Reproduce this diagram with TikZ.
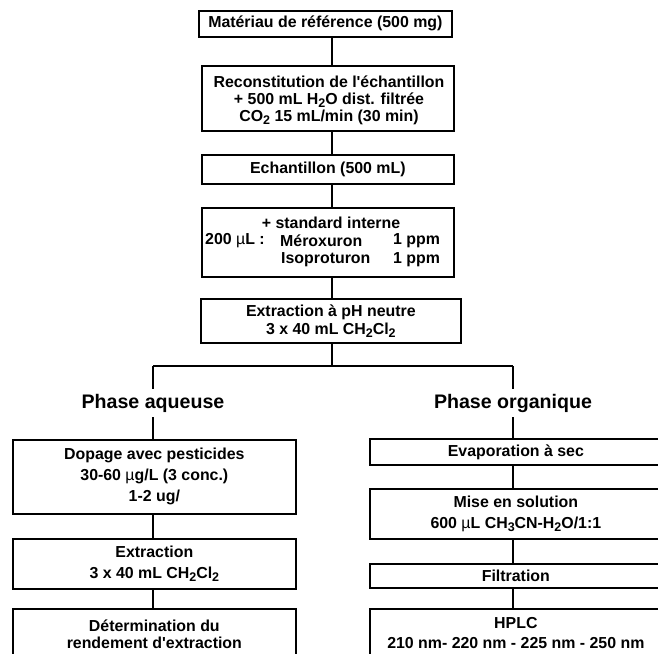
\documentclass[tikz,border=0pt]{standalone}
\usepackage{fontspec}
\newfontfamily\arial{Liberation Sans}
\newcommand\dn[1]{\raisebox{-0.35ex}{\fontsize{12.5}{12}\selectfont #1}}
\newcommand\mcu{{\mdseries µ}}
\begin{document}
\begin{tikzpicture}[x=1pt,y=-1pt,
  box/.style={draw=black,line width=1.7pt,anchor=north west,inner sep=0pt,align=center,
    font=\arial\fontsize{15.9}{18}\selectfont\bfseries},
  conn/.style={draw=black,line width=1.3pt},
  phase/.style={inner xsep=2pt,inner ysep=5pt,text height=14pt,text depth=4pt,
    font=\arial\fontsize{19.6}{22}\selectfont\bfseries},
  txt/.style={inner sep=0pt,font=\arial\fontsize{15.9}{18}\selectfont\bfseries}]
\useasboundingbox (0,0) rectangle (658,653);
\clip (0,0) rectangle (658,653);
% central column
\node[box,minimum width=253,minimum height=26] (b1) at (198,10) {Matériau de référence (500 mg)};
\node[box,minimum width=252,minimum height=65] (b2) at (201,65) {};
\node[txt,align=center,font=\arial\fontsize{15.9}{17}\selectfont\bfseries] (b2t) at (329,100)
  {Reconstitution de l'échantillon\\ + 500 mL H\dn{2}O dist. filtrée\\CO\dn{2} 15 mL/min (30 min)};
\node[box,minimum width=252,minimum height=29] (b3) at (201,154) {Echantillon (500 mL)};
\node[box,minimum width=252,minimum height=69] (b4) at (201,207) {};
\node[txt] (s1) at (331,223) {+ standard interne};
\node[txt,anchor=west] (s2) at (205,241) {200 \mcu L :};
\node[txt,anchor=west] (s3) at (280,241) {Méroxuron};
\node[txt,anchor=west] (s4) at (393,241) {1 ppm};
\node[txt,anchor=west] (s5) at (281,260) {Isoproturon};
\node[txt,anchor=west] (s6) at (393,260) {1 ppm};
\node[box,minimum width=260,minimum height=44] (b5) at (200,298)
  {Extraction à pH neutre\\3 x 40 mL CH\dn{2}Cl\dn{2}};
\draw[conn] (b1.south -| 332,0) -- (b2.north -| 332,0);
\draw[conn] (b2.south -| 332,0) -- (b3.north -| 332,0);
\draw[conn] (b3.south -| 332,0) -- (b4.north -| 332,0);
\draw[conn] (b4.south -| 332,0) -- (b5.north -| 332,0);
% split
\coordinate (j) at (332,366);
\coordinate (jl) at (153,366);
\coordinate (jr) at (513,366);
\draw[conn] (b5.south -| j) -- (j);
\draw[conn] (jl) -- (jr);
\node[phase] (pa) at (153,403) {Phase aqueuse};
\node[phase] (po) at (513,403) {Phase organique};
% left column
\node[box,minimum width=283,minimum height=74,font=\arial\fontsize{15.9}{21}\selectfont\bfseries] (d1) at (12,439)
  {Dopage avec pesticides\\30-60 \mcu g/L (3 conc.)\\1-2 ug/};
\node[box,minimum width=283,minimum height=50,font=\arial\fontsize{15.9}{21}\selectfont\bfseries] (d2) at (12,538)
  {Extraction\\3 x 40 mL CH\dn{2}Cl\dn{2}};
\node[box,minimum width=283,minimum height=51,font=\arial\fontsize{15.9}{17}\selectfont\bfseries] (d3) at (12,608)
  {Détermination du\\rendement d'extraction};
% right column
\node[box,minimum width=292,minimum height=26] (o1) at (369,438) {Evaporation à sec};
\node[box,minimum width=292,minimum height=50,font=\arial\fontsize{15.9}{21}\selectfont\bfseries] (o2) at (369,488)
  {Mise en solution\\600 \mcu L CH\dn{3}CN-H\dn{2}O/1:1};
\node[box,minimum width=292,minimum height=24] (o3) at (369,563) {Filtration};
\node[box,minimum width=292,minimum height=48,font=\arial\fontsize{15.9}{20}\selectfont\bfseries] (o4) at (369,608)
  {HPLC\\210 nm- 220 nm - 225 nm - 250 nm};
% connectors
\draw[conn] (jl) -- (pa.north);
\draw[conn] (pa.south) -- (d1.north -| pa);
\draw[conn] (jr) -- (po.north);
\draw[conn] (po.south) -- (o1.north -| po);
\draw[conn] (d1.south -| pa) -- (d2.north -| pa);
\draw[conn] (d2.south -| pa) -- (d3.north -| pa);
\draw[conn] (o1.south -| po) -- (o2.north -| po);
\draw[conn] (o2.south -| po) -- (o3.north -| po);
\draw[conn] (o3.south -| po) -- (o4.north -| po);
\end{tikzpicture}
\end{document}
